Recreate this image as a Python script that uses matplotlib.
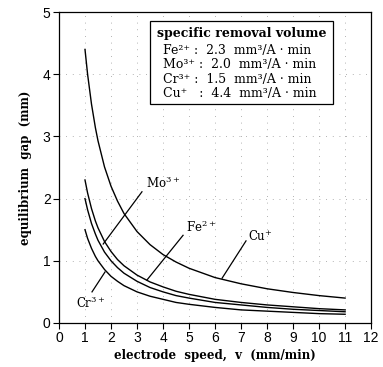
import matplotlib
matplotlib.use("Agg")
import matplotlib.pyplot as plt
from matplotlib.patches import Rectangle

# values (mm) at these electrode speeds (mm/min)
speed = [1, 1.1, 1.25, 1.4, 1.5, 1.75, 2, 2.25, 2.5, 3, 3.5, 4, 4.5, 5, 6, 7, 8, 9, 10, 11]
gap_cu = [4.40, 4.00, 3.52, 3.14, 2.93, 2.51, 2.20, 1.96, 1.76, 1.47, 1.26, 1.10, 0.98, 0.88, 0.73, 0.63, 0.55, 0.49, 0.44, 0.40]
gap_fe = [2.30, 2.09, 1.84, 1.64, 1.53, 1.31, 1.15, 1.02, 0.92, 0.77, 0.66, 0.58, 0.51, 0.46, 0.38, 0.33, 0.29, 0.26, 0.23, 0.21]
gap_mo = [2.00, 1.82, 1.60, 1.43, 1.33, 1.14, 1.00, 0.89, 0.80, 0.67, 0.57, 0.50, 0.44, 0.40, 0.33, 0.29, 0.25, 0.22, 0.20, 0.18]
gap_cr = [1.50, 1.36, 1.20, 1.07, 1.00, 0.86, 0.75, 0.67, 0.60, 0.50, 0.43, 0.38, 0.33, 0.30, 0.25, 0.21, 0.19, 0.17, 0.15, 0.14]

legend_title = "specific removal volume"
legend_rows = ["Fe²⁺ :  2.3  mm³/A · min",
               "Mo³⁺ :  2.0  mm³/A · min",
               "Cr³⁺ :  1.5  mm³/A · min",
               "Cu⁺   :  4.4  mm³/A · min"]

plt.rcParams["mathtext.fontset"] = "dejavuserif"
serif = "DejaVu Serif"

fig = plt.figure(figsize=(3.83, 3.67), dpi=100)
ax = fig.add_axes([0.154, 0.120, 0.815, 0.847])

for g in [gap_cu, gap_fe, gap_mo, gap_cr]:
    ax.plot(speed, g, color="black", lw=1.0)

ax.set_xlim(0, 12)
ax.set_ylim(0, 5)
ax.set_xticks(range(0, 13))
ax.set_yticks(range(0, 6))
ax.grid(True, color="#999999", linestyle=(0, (1, 7)), lw=0.6)
ax.tick_params(direction="out", length=4, width=0.8, labelsize=10, pad=2)
for lab in ax.get_xticklabels() + ax.get_yticklabels():
    lab.set_family("Liberation Sans")
for s in ax.spines.values():
    s.set_linewidth(0.9)

ax.set_xlabel("electrode  speed,  v  (mm/min)", family=serif, weight="bold", fontsize=8.5, labelpad=3)
ax.set_ylabel("equilibrium  gap  (mm)", family=serif, weight="bold", fontsize=8.5, labelpad=8)

# ion labels with leader lines
lw_lead = 0.9
ax.plot([3.19, 1.70], [2.11, 1.27], color="black", lw=lw_lead)
ax.text(3.35, 2.25, "Mo$^{3+}$", family=serif, fontsize=8.5, va="center")
ax.plot([4.77, 3.38], [1.41, 0.69], color="black", lw=lw_lead)
ax.text(4.9, 1.55, "Fe$^{2+}$", family=serif, fontsize=8.5, va="center")
ax.plot([7.19, 6.27], [1.32, 0.72], color="black", lw=lw_lead)
ax.text(7.25, 1.38, "Cu$^{+}$", family=serif, fontsize=8.5, va="center")
ax.plot([1.27, 1.77], [0.50, 0.82], color="black", lw=lw_lead)
ax.text(0.65, 0.32, "Cr$^{3+}$", family=serif, fontsize=8.5, va="center")

# box with specific removal volumes
ax.add_patch(Rectangle((3.5, 3.52), 7.04, 1.34, fill=True, facecolor="white",
                       edgecolor="black", lw=0.9, zorder=3))
ax.text(7.02, 4.65, legend_title, family=serif, weight="bold", fontsize=9,
        ha="center", va="center", zorder=4)
for i, row in enumerate(legend_rows):
    ax.text(4.0, 4.39 - i * 0.235, row, family=serif, fontsize=9,
            va="center", zorder=4)

fig.savefig("out.png", dpi=100)
